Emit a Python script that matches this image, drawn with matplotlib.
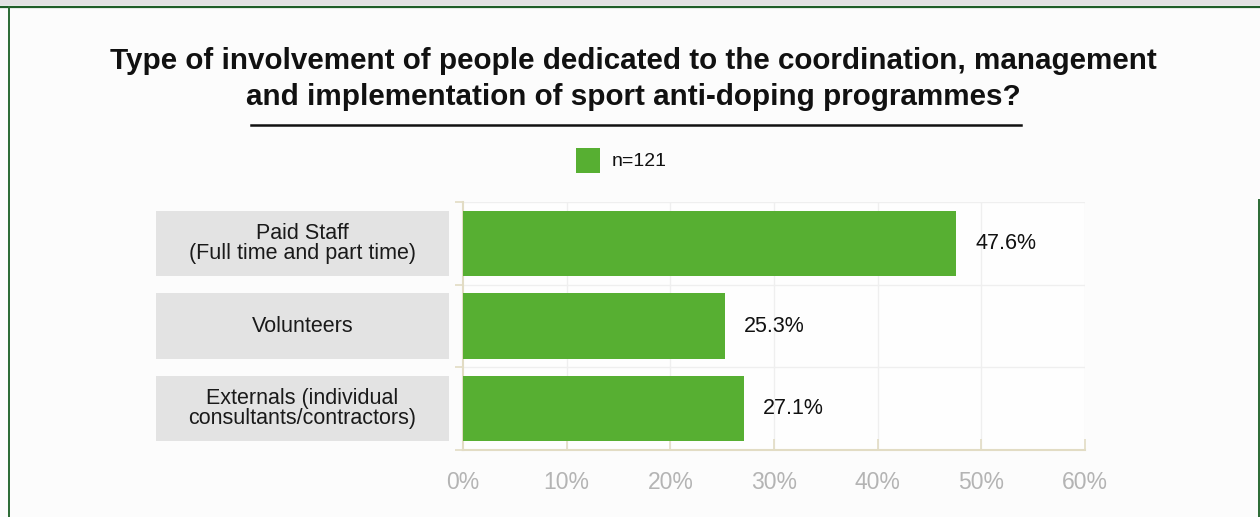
import matplotlib
matplotlib.use('Agg')
import matplotlib.pyplot as plt
from matplotlib.patches import Rectangle
from matplotlib.lines import Line2D
import matplotlib.transforms as mtransforms

# datos del gráfico
categories = ['Paid Staff\n(Full time and part time)', 'Volunteers',
              'Externals (individual\nconsultants/contractors)']
values = [47.6, 25.3, 27.1]
xticks = [0, 10, 20, 30, 40, 50, 60]
legend_label = 'n=121'
title = ('Type of involvement of people dedicated to the coordination, management\n'
         'and implementation of sport anti-doping programmes?')

green = '#57af32'
beige = '#e2dcc4'
grid_c = '#efefef'

plt.rcParams['font.family'] = ['Liberation Sans', 'DejaVu Sans']

W, H = 1260, 517
fig = plt.figure(figsize=(W / 100, H / 100), dpi=100)
fig.patch.set_facecolor('#fcfcfc')

# marco verde y banda superior
fig.patches.append(Rectangle((0, 1 - 5 / H), 1, 5 / H, transform=fig.transFigure,
                             facecolor='#e2e2e2', edgecolor='none'))
fig.lines.append(Line2D([0, 1], [1 - 6.5 / H, 1 - 6.5 / H], transform=fig.transFigure,
                        color='#1f5e28', linewidth=1.6))
fig.lines.append(Line2D([8.5 / W, 8.5 / W], [0, 1 - 6.5 / H], transform=fig.transFigure,
                        color='#2a6a33', linewidth=1.4))
fig.lines.append(Line2D([1258.5 / W, 1258.5 / W], [0, 1 - 200 / H], transform=fig.transFigure,
                        color='#2a6a33', linewidth=1.4))

# título
fig.text(633 / W, 1 - 79 / H, title, ha='center', va='center', fontsize=21.3,
         fontweight='bold', color='#111111', linespacing=1.4)
fig.lines.append(Line2D([251 / W, 1021 / W], [1 - 124.5 / H, 1 - 124.5 / H],
                        transform=fig.transFigure, color='#111111', linewidth=1.8))

# leyenda
fig.patches.append(Rectangle((576 / W, 1 - 173 / H), 24 / W, 25 / H, transform=fig.transFigure,
                             facecolor=green, edgecolor='none'))
fig.text(612 / W, 1 - 161 / H, legend_label, ha='left', va='center', fontsize=14, color='#111111')

ax = fig.add_axes([463 / W, 1 - 450 / H, 622 / W, 248 / H])
ax.set_facecolor('#fefefe')
y = list(range(len(categories)))
ax.barh(y, values, height=0.79, color=green, zorder=3)
ax.set_xlim(0, 60)
ax.set_ylim(len(categories) - 0.5, -0.5)

# cuadrícula
for xv in xticks[1:]:
    ax.axvline(xv, color=grid_c, linewidth=1, zorder=1)
for yv in [i - 0.5 for i in range(len(categories) + 1)][:-1]:
    ax.axhline(yv, color=grid_c, linewidth=1, zorder=1)

for s in ['top', 'right']:
    ax.spines[s].set_visible(False)
ax.spines['left'].set_color(beige)
ax.spines['bottom'].set_color(beige)
ax.spines['left'].set_linewidth(1.5)
ax.spines['bottom'].set_linewidth(1.5)

ax.set_xticks(xticks)
ax.set_xticklabels([f'{v}%' for v in xticks])
ax.tick_params(axis='x', colors=beige, length=8, width=1.2, direction='in', pad=15,
               labelcolor='#b4b4b4', labelsize=16.5)
ax.set_yticks([i - 0.5 for i in range(len(categories) + 1)])
ax.set_yticklabels([])
ax.tick_params(axis='y', colors=beige, length=6, width=1.2)

# etiquetas de valor
for yi, v in zip(y, values):
    ax.text(v + 1.8, yi, f'{v}%', ha='left', va='center', fontsize=15.5, color='#111111', zorder=4)

# cajas de categorías
trans = mtransforms.blended_transform_factory(ax.transAxes, ax.transData)
x0 = (156 - 463) / 622
x1 = (449 - 463) / 622
for yi, lab in zip(y, categories):
    ax.add_patch(Rectangle((x0, yi - 0.395), x1 - x0, 0.79, transform=trans,
                           facecolor='#e3e3e3', edgecolor='none', clip_on=False))
    ax.text((x0 + x1) / 2, yi, lab, transform=trans, ha='center', va='center',
            fontsize=15.5, color='#1a1a1a', linespacing=0.95)

fig.savefig('out.png', dpi=100, facecolor=fig.get_facecolor())
